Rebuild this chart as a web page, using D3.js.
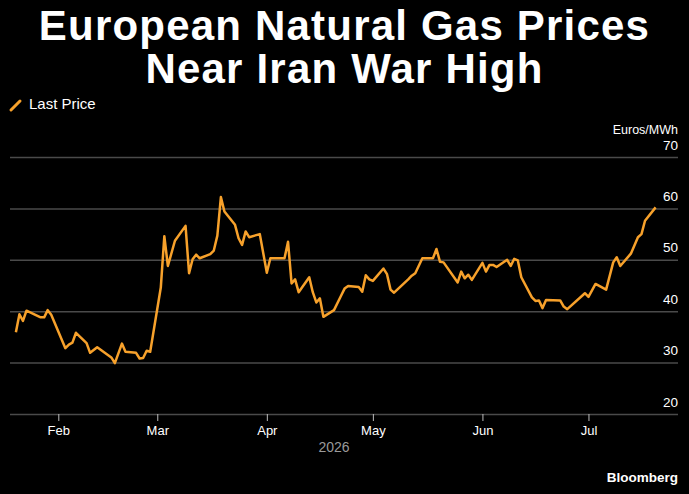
<!DOCTYPE html>
<html>
<head>
<meta charset="utf-8">
<script src="https://cdn.jsdelivr.net/npm/d3@7"></script>
<style>
html, body { margin: 0; padding: 0; background: #000; }
svg { display: block; }
</style>
</head>
<body>
<svg id="chart" width="689" height="494"></svg>
<script>
// ---- data ----
const dates = [
  "2026-01-20","2026-01-21","2026-01-22","2026-01-23","2026-01-27","2026-01-28","2026-01-29","2026-01-30",
  "2026-02-03","2026-02-04","2026-02-05","2026-02-06","2026-02-09","2026-02-10","2026-02-12","2026-02-16",
  "2026-02-17","2026-02-19","2026-02-20","2026-02-23","2026-02-24","2026-02-25","2026-02-26","2026-02-27",
  "2026-03-02","2026-03-03","2026-03-04","2026-03-06","2026-03-09","2026-03-10","2026-03-11","2026-03-12",
  "2026-03-13","2026-03-16","2026-03-17","2026-03-18","2026-03-19","2026-03-20","2026-03-23","2026-03-24",
  "2026-03-25","2026-03-26","2026-03-27","2026-03-30","2026-04-01","2026-04-02","2026-04-06","2026-04-07",
  "2026-04-08","2026-04-09","2026-04-10","2026-04-13","2026-04-14","2026-04-15","2026-04-16","2026-04-17",
  "2026-04-20","2026-04-22","2026-04-23","2026-04-24","2026-04-27","2026-04-28","2026-04-29","2026-04-30",
  "2026-05-01","2026-05-04","2026-05-05","2026-05-06","2026-05-07","2026-05-11","2026-05-12","2026-05-13",
  "2026-05-15","2026-05-18","2026-05-19","2026-05-20","2026-05-21","2026-05-25","2026-05-26","2026-05-27",
  "2026-05-28","2026-05-29","2026-06-01","2026-06-02","2026-06-03","2026-06-04","2026-06-05","2026-06-08",
  "2026-06-09","2026-06-10","2026-06-11","2026-06-12","2026-06-15","2026-06-16","2026-06-17","2026-06-18",
  "2026-06-19","2026-06-23","2026-06-24","2026-06-25","2026-06-30","2026-07-01","2026-07-03","2026-07-06",
  "2026-07-08","2026-07-09","2026-07-10","2026-07-13","2026-07-15","2026-07-16","2026-07-17","2026-07-20"
];
const prices = [
  35.9, 39.4, 38.1, 40.1, 38.8, 38.8, 40.2, 39.3,
  32.8, 33.5, 33.9, 35.8, 33.8, 31.9, 33.0, 31.0,
  29.9, 33.7, 32.1, 31.9, 30.8, 30.9, 32.3, 32.1,
  44.6, 54.6, 48.8, 53.7, 56.6, 47.4, 50.1, 51.0,
  50.3, 51.1, 51.8, 54.7, 62.2, 59.4, 56.8, 54.2,
  52.9, 55.5, 54.4, 55.0, 47.5, 50.3, 50.3, 53.5,
  45.4, 46.2, 43.7, 46.6, 43.7, 41.7, 42.5, 38.9,
  40.2, 43.0, 44.4, 44.9, 44.7, 43.8, 47.0, 46.2,
  45.9, 48.3, 47.2, 44.2, 43.6, 46.2, 46.9, 47.4,
  50.3, 50.3, 52.1, 49.6, 49.5, 45.6, 47.7, 46.4,
  47.1, 46.1, 49.4, 47.7, 49.0, 49.0, 48.6, 50.0,
  48.8, 50.2, 49.9, 46.6, 42.7, 42.0, 42.1, 40.6,
  42.2, 42.1, 40.9, 40.4, 43.5, 42.8, 45.3, 44.2,
  49.5, 50.5, 48.8, 51.2, 54.4, 55.0, 57.6, 60.2
];
const yTicks = [20, 30, 40, 50, 60, 70];
const xTickMonths = ["2026-02-01","2026-03-01","2026-04-01","2026-05-01","2026-06-01","2026-07-01"];
const titleLines = ["European Natural Gas Prices", "Near Iran War High"];
const seriesName = "Last Price";
const unitLabel = "Euros/MWh";
const yearLabel = "2026";
const sourceLabel = "Bloomberg";

// ---- chart ----
(function () {
const svg = d3.select("#chart");
const W = 689, H = 494;
const pLeft = 10, pRight = 678, pTop = 157, pBottom = 414;
const orange = "#f7a12b";
const gridColor = "#4a4a4a";
const font = "'Liberation Sans', Arial, sans-serif";

const parse = d3.utcParse("%Y-%m-%d");
const data = dates.map((d, i) => ({ date: parse(d), value: prices[i] }));

const x = d3.scaleUtc()
  .domain([new Date(Date.UTC(2026, 0, 18, 8)), new Date(Date.UTC(2026, 6, 26, 8))])
  .range([pLeft, pRight]);
const y = d3.scaleLinear().domain([20, 70]).range([pBottom, pTop]);

// title (single text element, two lines)
const title = svg.append("text")
  .attr("text-anchor", "middle")
  .attr("fill", "#fff")
  .attr("font-family", font)
  .attr("font-weight", "bold")
  .attr("font-size", 42)
  .attr("letter-spacing", 1.2);
title.selectAll("tspan").data(titleLines).join("tspan")
  .attr("x", W / 2)
  .attr("y", (d, i) => 40 + i * 43)
  .text(d => d);

// legend
svg.append("line")
  .attr("x1", 11).attr("y1", 110).attr("x2", 20).attr("y2", 101)
  .attr("stroke", orange).attr("stroke-width", 3).attr("stroke-linecap", "round");
svg.append("text")
  .attr("x", 29).attr("y", 109)
  .attr("fill", "#fff")
  .attr("font-family", font)
  .attr("font-size", 15)
  .text(seriesName);

// unit label
svg.append("text")
  .attr("x", pRight).attr("y", 134)
  .attr("text-anchor", "end")
  .attr("fill", "#fff")
  .attr("font-family", font)
  .attr("font-size", 12.5)
  .text(unitLabel);

// gridlines + y labels
const yAxis = d3.axisRight(y).tickValues(yTicks).tickSize(pRight - pLeft).tickFormat(d3.format("d"));
const gy = svg.append("g").attr("transform", `translate(${pLeft},0)`).call(yAxis);
gy.select(".domain").remove();
gy.selectAll(".tick line").attr("stroke", gridColor).attr("stroke-width", 1.5);
gy.selectAll(".tick text")
  .attr("x", pRight - pLeft)
  .attr("dy", -8)
  .attr("text-anchor", "end")
  .attr("fill", "#fff")
  .attr("font-family", font)
  .attr("font-size", 13.5);

// x axis
const xAxis = d3.axisBottom(x)
  .tickValues(xTickMonths.map(parse))
  .tickSize(7)
  .tickPadding(5)
  .tickFormat(d3.utcFormat("%b"));
const gx = svg.append("g").attr("transform", `translate(0,${pBottom})`).call(xAxis);
gx.select(".domain").remove();
gx.selectAll(".tick line").attr("stroke", "#bbb").attr("stroke-width", 1);
gx.selectAll(".tick text")
  .attr("fill", "#fff")
  .attr("font-family", font)
  .attr("font-size", 13);

svg.append("text")
  .attr("x", x(parse("2026-04-20"))).attr("y", 452)
  .attr("text-anchor", "middle")
  .attr("fill", "#9a9a9a")
  .attr("font-family", font)
  .attr("font-size", 14)
  .text(yearLabel);

// line
const line = d3.line().x(d => x(d.date)).y(d => y(d.value));
svg.append("path")
  .datum(data)
  .attr("d", line)
  .attr("fill", "none")
  .attr("stroke", orange)
  .attr("stroke-width", 2.5)
  .attr("stroke-linejoin", "round");

// source
svg.append("text")
  .attr("x", pRight).attr("y", 482)
  .attr("text-anchor", "end")
  .attr("fill", "#fff")
  .attr("font-family", font)
  .attr("font-weight", "bold")
  .attr("font-size", 13.5)
  .text(sourceLabel);
})();
</script>
</body>
</html>
